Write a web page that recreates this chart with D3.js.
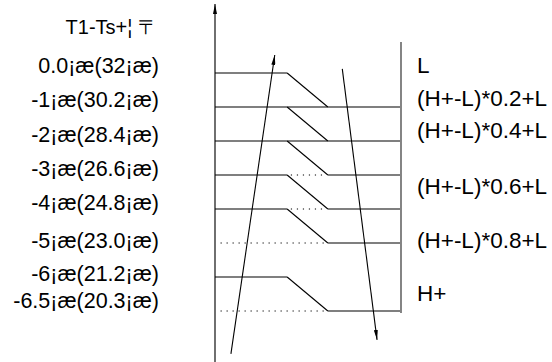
<!DOCTYPE html>
<meta charset="utf-8">
<script src="https://d3js.org/d3.v7.min.js"></script>
<style>
  body { margin: 0; background: #fff; }
  text { font-family: "Liberation Sans", Arial, sans-serif; fill: #000; }
</style>
<div id="chart"></div>
<script>

// left side labels (row position, text)
var title = "T1-Ts+¦ 〒";
var leftLabels = ["0.0¡æ(32¡æ)", "-1¡æ(30.2¡æ)", "-2¡æ(28.4¡æ)", "-3¡æ(26.6¡æ)",
                  "-4¡æ(24.8¡æ)", "-5¡æ(23.0¡æ)", "-6¡æ(21.2¡æ)", "-6.5¡æ(20.3¡æ)"];
var leftLabelRows = [-0.24, 0.76, 1.79, 2.79, 3.79, 4.91, 5.88, 6.68];

// right side labels
var rightLabels = ["L", "(H+-L)*0.2+L", "(H+-L)*0.4+L", "(H+-L)*0.6+L", "(H+-L)*0.8+L", "H+"];
var rightLabelRows = [-0.24, 0.74, 1.68, 3.32, 4.91, 6.47];

// levels: style of the left part, the middle gap and the right part of each row
var rowLeft  = ["solid", "solid", "solid", "solid",  "solid",  "dotted", "solid", "dotted"];
var rowMid   = ["none",  "solid", "solid", "dotted", "dotted", "dotted", "none",  "dotted"];
var rowRight = ["none",  "solid", "solid", "solid",  "solid",  "solid",  "none",  "solid"];
// rows where the level steps down to the next one
var stepRows = [0, 1, 2, 3, 4, 6];

// break points along the level lines (0 = axis, 100 = right border)
var kneeTop = 39, kneeBottom = 61, dotStart = 3;

// the two flow arrows, [x, row]
var upArrow = [[8.6, 8.26], [32.3, -0.53]];
var downArrow = [[68.8, -0.12], [87.6, 7.85]];

var W = 552, H = 362;

var svg = d3.select("#chart").append("svg")
    .attr("width", W)
    .attr("height", H);

var x = d3.scaleLinear().domain([0, 100]).range([215, 400]);
var y = d3.scaleLinear().domain([0, 7]).range([73, 311]);

var defs = svg.append("defs");
defs.append("marker")
    .attr("id", "head")
    .attr("viewBox", "0 0 10 4")
    .attr("refX", 10).attr("refY", 2)
    .attr("markerWidth", 10).attr("markerHeight", 4)
    .attr("markerUnits", "userSpaceOnUse")
    .attr("orient", "auto")
  .append("path")
    .attr("d", "M0,0 L10,2 L0,4 Z")
    .attr("fill", "#000");

// vertical axis with arrow
svg.append("line")
    .attr("x1", x(0)).attr("x2", x(0))
    .attr("y1", H).attr("y2", 4)
    .attr("stroke", "#333").attr("stroke-width", 1.4)
    .attr("marker-end", "url(#head)");

// right border line
svg.append("line")
    .attr("x1", x(100) + 1).attr("x2", x(100) + 1)
    .attr("y1", y(-0.91)).attr("y2", y(7.06))
    .attr("stroke", "#333").attr("stroke-width", 1.2);

var g = svg.append("g").attr("fill", "none").attr("stroke", "#000").attr("stroke-width", 1.1);

function seg(x1, x2, row, style) {
  if (style === "none") return;
  g.append("line")
      .attr("x1", x(x1)).attr("x2", x(x2))
      .attr("y1", y(row)).attr("y2", y(row))
      .attr("stroke-dasharray", style === "dotted" ? "1.2,4.8" : null)
      .attr("stroke-width", style === "dotted" ? 1 : 1.1);
}

d3.range(8).forEach(function(r) {
  if (rowLeft[r] === "dotted") {
    seg(dotStart, kneeBottom - 1, r, "dotted");
  } else {
    seg(0, kneeTop, r, rowLeft[r]);
    if (rowMid[r] === "dotted") seg(kneeTop + 2, kneeBottom - 1, r, "dotted");
    else seg(kneeTop, kneeBottom, r, rowMid[r]);
  }
  seg(kneeBottom, 100, r, rowRight[r]);
});

// step diagonals
g.selectAll(".step")
  .data(stepRows)
  .enter().append("line")
    .attr("x1", x(kneeTop)).attr("y1", function(d) { return y(d); })
    .attr("x2", x(kneeBottom)).attr("y2", function(d) { return y(d + 1); });

// flow arrows
[upArrow, downArrow].forEach(function(a) {
  svg.append("line")
      .attr("x1", x(a[0][0])).attr("y1", y(a[0][1]))
      .attr("x2", x(a[1][0])).attr("y2", y(a[1][1]))
      .attr("stroke", "#000").attr("stroke-width", 1.1)
      .attr("marker-end", "url(#head)");
});

// labels
svg.append("text")
    .attr("x", 158).attr("y", 34)
    .attr("text-anchor", "end")
    .attr("font-size", 20)
    .text(title);

svg.selectAll(".ll")
  .data(leftLabels)
  .enter().append("text")
    .attr("x", 159)
    .attr("y", function(d, i) { return y(leftLabelRows[i]) + 8; })
    .attr("text-anchor", "end")
    .attr("font-size", 21.5)
    .text(function(d) { return d; });

svg.selectAll(".rl")
  .data(rightLabels)
  .enter().append("text")
    .attr("x", 417)
    .attr("y", function(d, i) { return y(rightLabelRows[i]) + 8; })
    .attr("font-size", 22.5)
    .text(function(d) { return d; });

</script>
